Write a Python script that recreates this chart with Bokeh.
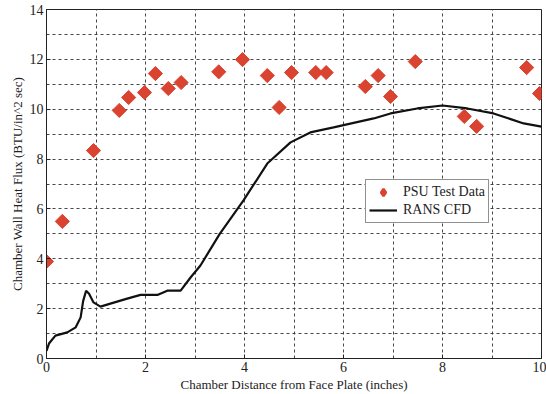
from bokeh.plotting import figure
from bokeh.models import FixedTicker, Range1d, Legend, LegendItem
from bokeh.embed import file_html
from bokeh.resources import INLINE
import math

# PSU test data
test_x = [0.0, 0.32, 0.95, 1.47, 1.66, 1.98, 2.2, 2.46, 2.72, 3.48, 3.96, 4.46, 4.7, 4.95,
          5.44, 5.65, 6.44, 6.7, 6.95, 7.45, 8.44, 8.69, 9.7, 9.96]
test_y = [3.89, 5.5, 8.34, 9.95, 10.47, 10.67, 11.43, 10.83, 11.07, 11.5, 11.99, 11.35, 10.07, 11.47,
          11.47, 11.47, 10.91, 11.35, 10.51, 11.91, 9.71, 9.31, 11.67, 10.63]

# RANS CFD curve
cfd_x = [0.0, 0.05, 0.18, 0.42, 0.59, 0.69, 0.74, 0.8, 0.86, 0.95, 1.09, 1.29, 1.63, 1.9, 2.24,
         2.44, 2.71, 2.91, 3.11, 3.5, 3.98, 4.46, 4.93, 5.33, 5.8, 6.61, 6.95, 7.49, 8.0, 8.5,
         9.03, 9.64, 10.0]
cfd_y = [0.3, 0.6, 0.92, 1.05, 1.25, 1.65, 2.3, 2.72, 2.6, 2.25, 2.08, 2.2, 2.4, 2.55, 2.55,
         2.72, 2.72, 3.25, 3.73, 5.0, 6.34, 7.82, 8.67, 9.07, 9.27, 9.63, 9.83, 10.03, 10.15, 10.03,
         9.83, 9.43, 9.3]

x_ticks = [0, 2, 4, 6, 8, 10]
y_ticks = [0, 2, 4, 6, 8, 10, 12, 14]
x_grid = list(range(0, 11))
y_grid = list(range(0, 15))

FONT = "Liberation Serif"
RED = "#d9432f"

p = figure(width=546, height=394, output_backend="svg", toolbar_location=None,
           x_range=Range1d(0, 10), y_range=Range1d(0, 14))
p.min_border_left = 46
p.min_border_right = 5
p.min_border_top = 9
p.min_border_bottom = 36
p.background_fill_color = "white"
p.border_fill_color = "white"
p.outline_line_color = "#222222"
p.outline_line_width = 1

for ax in (p.xaxis[0], p.yaxis[0]):
    ax.major_tick_in = 4
    ax.major_tick_out = 0
    ax.minor_tick_in = 0
    ax.minor_tick_out = 0
    ax.axis_line_color = "#222222"
    ax.major_tick_line_color = "#222222"
    ax.major_label_text_font = FONT
    ax.major_label_text_font_size = "14px"
    ax.major_label_text_color = "#222222"
    ax.axis_label_text_font = FONT
    ax.axis_label_text_font_size = "13px"
    ax.axis_label_text_font_style = "normal"
    ax.axis_label_text_color = "#222222"
    ax.major_label_standoff = 3
    ax.axis_label_standoff = 2

p.xaxis.ticker = FixedTicker(ticks=x_ticks)
p.yaxis.ticker = FixedTicker(ticks=y_ticks)
p.xaxis.axis_label = "Chamber Distance from Face Plate (inches)"
p.yaxis.axis_label = "Chamber Wall Heat Flux (BTU/in^2 sec)"

p.xgrid.ticker = FixedTicker(ticks=x_grid)
p.ygrid.ticker = FixedTicker(ticks=y_grid)
for g in (p.xgrid[0], p.ygrid[0]):
    g.grid_line_color = "#333333"
    g.grid_line_dash = "3 3"
    g.grid_line_width = 1
    g.grid_line_alpha = 0.9

line = p.line(cfd_x, cfd_y, line_color="#111111", line_width=2.2)
pts = p.scatter(test_x, test_y, marker="square", angle=math.pi / 4, size=10,
                fill_color=RED, line_color=RED)
# legend key only (markers are drawn unrotated inside legends); NaN -> not plotted
pts_key = p.scatter(x=[float("nan")], y=[float("nan")], marker="diamond",
                    fill_color=RED, line_color=RED, line_width=2.5)

legend = Legend(items=[LegendItem(label="PSU Test Data", renderers=[pts_key]),
                       LegendItem(label="RANS CFD", renderers=[line])],
                location=(319, 135))
legend.label_text_font = FONT
legend.label_text_font_size = "14px"
legend.label_text_color = "#222222"
legend.border_line_color = "#222222"
legend.border_line_width = 1
legend.background_fill_color = "white"
legend.background_fill_alpha = 1
legend.padding = 3
legend.spacing = 0
legend.label_height = 18
legend.glyph_height = 18
legend.glyph_width = 28
legend.label_standoff = 6
legend.margin = 0
p.add_layout(legend, "center")

open("out.html", "w").write(file_html(p, INLINE))
